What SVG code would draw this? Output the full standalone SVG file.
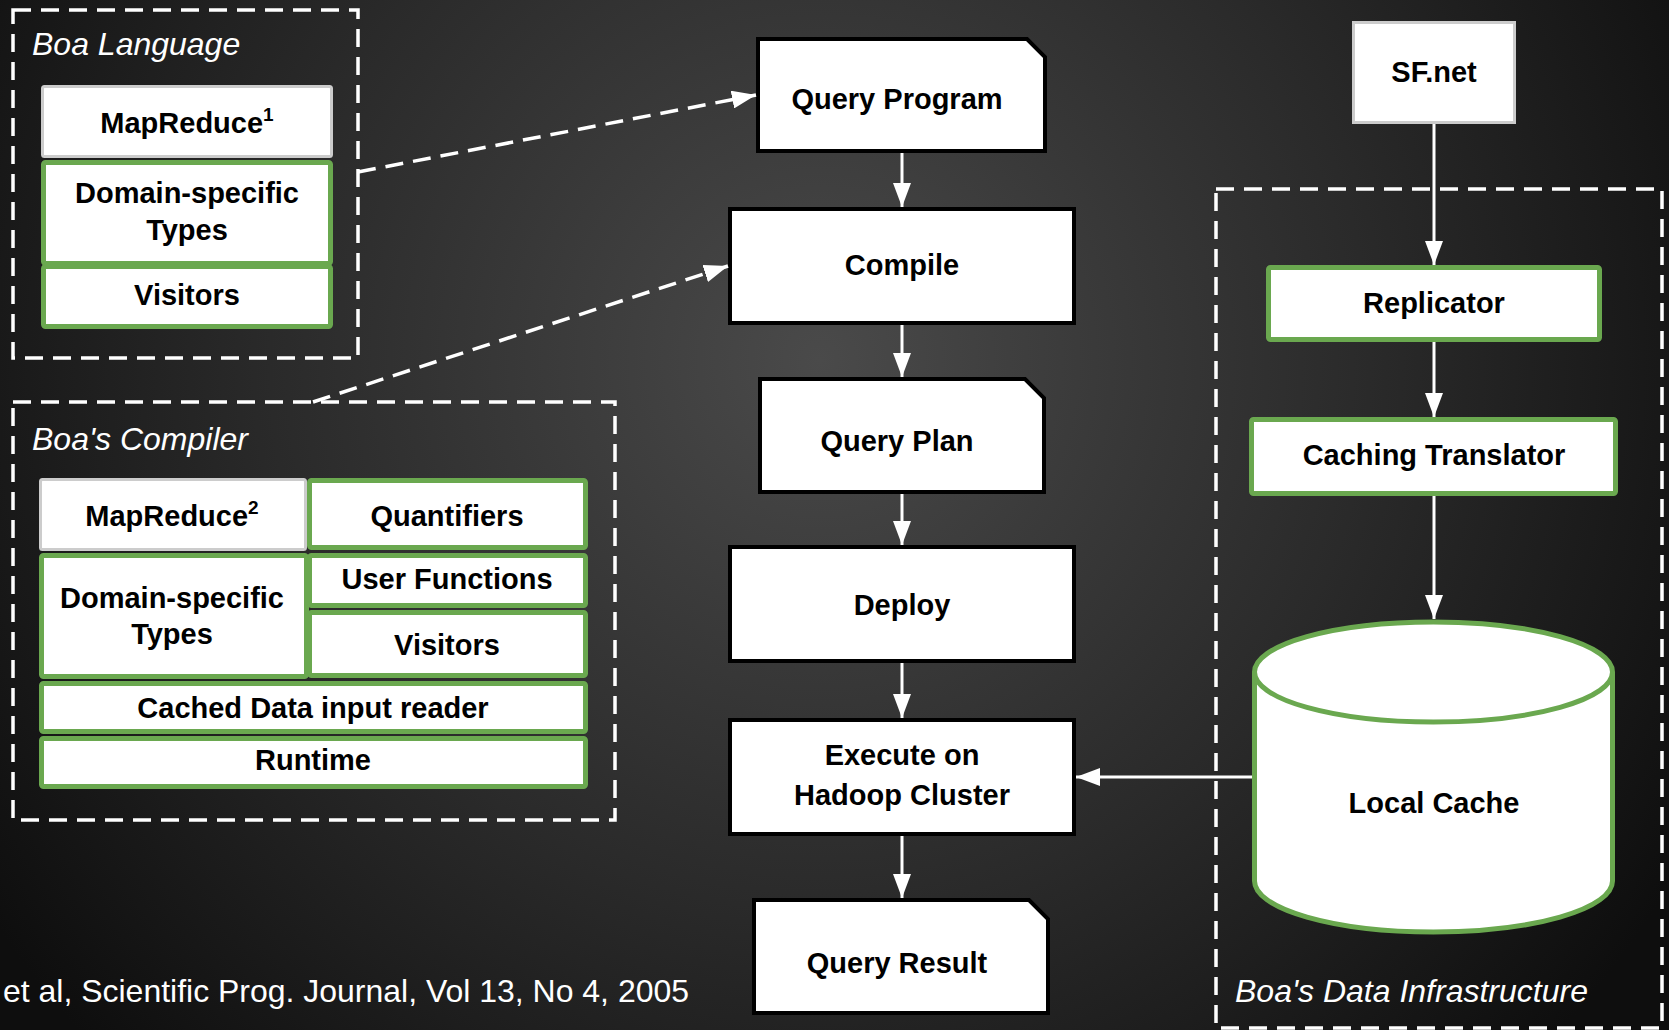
<svg xmlns="http://www.w3.org/2000/svg" width="1669" height="1030" viewBox="0 0 1669 1030">
<defs>
<radialGradient id="bg" cx="820" cy="360" r="1000" gradientUnits="userSpaceOnUse">
<stop offset="0" stop-color="#4a4a4a"/>
<stop offset="0.55" stop-color="#2a2a2a"/>
<stop offset="1" stop-color="#0e0e0e"/>
</radialGradient>
<marker id="ah" markerUnits="userSpaceOnUse" markerWidth="24" markerHeight="18" refX="24" refY="9" orient="auto">
<path d="M0,0 L24,9 L0,18 Z" fill="#fff"/>
</marker>
</defs>
<style>
.bold{font-family:"Liberation Sans",Arial,sans-serif;font-weight:bold;font-size:29px;fill:#000;text-anchor:middle}
.title{font-family:"Liberation Sans",Arial,sans-serif;font-style:italic;font-size:32px;fill:#fff}
.foot{font-family:"Liberation Sans",Arial,sans-serif;font-size:32px;fill:#fff}
.dash{fill:none;stroke:#fff;stroke-width:3.5;stroke-dasharray:18 10}
.gray{fill:#fff;stroke:#cccccc;stroke-width:3}
.green{fill:#fff;stroke:#6aa84f;stroke-width:5}
.blk{fill:#fff;stroke:#000;stroke-width:4}
.conn{fill:none;stroke:#fff;stroke-width:3;marker-end:url(#ah)}
.dconn{fill:none;stroke:#fff;stroke-width:3.5;stroke-dasharray:18 10;marker-end:url(#ah)}
</style>
<rect x="0" y="0" width="1669" height="1030" fill="url(#bg)"/>

<g id="boa-language">
<rect class="dash" x="13" y="10" width="345" height="348"/>
<text class="title" x="32" y="55">Boa Language</text>
</g>
<g id="lang-mapreduce">
<rect class="gray" x="42.5" y="86.5" width="289" height="70" rx="2"/>
<text class="bold" x="187" y="133">MapReduce<tspan font-size="19" dy="-12">1</tspan></text>
</g>
<g id="lang-domain-types">
<rect class="green" x="43.5" y="162.5" width="287" height="101" rx="2"/>
<text class="bold" x="187" y="203">Domain-specific</text>
<text class="bold" x="187" y="240">Types</text>
</g>
<g id="lang-visitors">
<rect class="green" x="43.5" y="266.5" width="287" height="60" rx="2"/>
<text class="bold" x="187" y="305">Visitors</text>
</g>

<g id="boa-compiler">
<rect class="dash" x="13" y="402" width="602" height="418"/>
<text class="title" x="32" y="450">Boa's Compiler</text>
</g>
<g id="comp-mapreduce">
<rect class="gray" x="40.5" y="479.5" width="265" height="70" rx="2"/>
<text class="bold" x="172" y="526">MapReduce<tspan font-size="19" dy="-12">2</tspan></text>
</g>
<g id="comp-quantifiers">
<rect class="green" x="309.5" y="480.5" width="276" height="67" rx="2"/>
<text class="bold" x="447" y="526">Quantifiers</text>
</g>
<g id="comp-domain-types">
<rect class="green" x="41.5" y="555.5" width="265" height="121" rx="2"/>
<text class="bold" x="172" y="608">Domain-specific</text>
<text class="bold" x="172" y="644">Types</text>
</g>
<g id="comp-user-functions">
<rect class="green" x="309.5" y="555.5" width="276" height="50" rx="2"/>
<text class="bold" x="447" y="589">User Functions</text>
</g>
<g id="comp-visitors">
<rect class="green" x="309.5" y="612.5" width="276" height="63" rx="2"/>
<text class="bold" x="447" y="655">Visitors</text>
</g>
<g id="comp-cached-reader">
<rect class="green" x="41.5" y="683.5" width="544" height="48" rx="2"/>
<text class="bold" x="313" y="718">Cached Data input reader</text>
</g>
<g id="comp-runtime">
<rect class="green" x="41.5" y="738.5" width="544" height="48" rx="2"/>
<text class="bold" x="313" y="770">Runtime</text>
</g>

<g id="query-program">
<path class="blk" d="M758,39 L1027,39 L1045,57 L1045,151 L758,151 Z"/>
<text class="bold" x="897" y="109">Query Program</text>
</g>
<g id="compile">
<rect class="blk" x="730" y="209" width="344" height="114"/>
<text class="bold" x="902" y="275">Compile</text>
</g>
<g id="query-plan">
<path class="blk" d="M760,379 L1025,379 L1044,398 L1044,492 L760,492 Z"/>
<text class="bold" x="897" y="451">Query Plan</text>
</g>
<g id="deploy">
<rect class="blk" x="730" y="547" width="344" height="114"/>
<text class="bold" x="902" y="615">Deploy</text>
</g>
<g id="execute">
<rect class="blk" x="730" y="720" width="344" height="114"/>
<text class="bold" x="902" y="765">Execute on</text>
<text class="bold" x="902" y="805">Hadoop Cluster</text>
</g>
<g id="query-result">
<path class="blk" d="M754,900 L1029,900 L1048,919 L1048,1013 L754,1013 Z"/>
<text class="bold" x="897" y="973">Query Result</text>
</g>

<g id="sfnet">
<rect class="gray" x="1353.5" y="22.5" width="161" height="100"/>
<text class="bold" x="1434" y="82">SF.net</text>
</g>
<g id="data-infrastructure">
<rect class="dash" x="1216" y="189" width="446" height="839"/>
<text class="title" x="1235" y="1002">Boa's Data Infrastructure</text>
</g>
<g id="replicator">
<rect class="green" x="1268.5" y="267.5" width="331" height="72" rx="2"/>
<text class="bold" x="1434" y="313">Replicator</text>
</g>
<g id="caching-translator">
<rect class="green" x="1251.5" y="419.5" width="364" height="74" rx="2"/>
<text class="bold" x="1434" y="465">Caching Translator</text>
</g>
<g id="local-cache">
<path d="M1254.5,672 A179,50 0 0,1 1612.5,672 L1612.5,881 A179,51 0 0,1 1254.5,881 Z" fill="#fff" stroke="#6aa84f" stroke-width="5"/>
<path d="M1254.5,672 A179,50 0 0,0 1612.5,672" fill="none" stroke="#6aa84f" stroke-width="5"/>
<text class="bold" x="1434" y="813">Local Cache</text>
</g>

<g id="connectors">
<line class="dconn" x1="358" y1="172" x2="756" y2="95"/>
<line class="dconn" x1="313" y1="402" x2="728" y2="266"/>
<line class="conn" x1="902" y1="153" x2="902" y2="207"/>
<line class="conn" x1="902" y1="325" x2="902" y2="377"/>
<line class="conn" x1="902" y1="494" x2="902" y2="545"/>
<line class="conn" x1="902" y1="663" x2="902" y2="718"/>
<line class="conn" x1="902" y1="836" x2="902" y2="898"/>
<line class="conn" x1="1434" y1="124" x2="1434" y2="265"/>
<line class="conn" x1="1434" y1="342" x2="1434" y2="417"/>
<line class="conn" x1="1434" y1="496" x2="1434" y2="619"/>
<line class="conn" x1="1252" y1="777" x2="1076" y2="777"/>
</g>

<text class="foot" x="3" y="1002" textLength="686" lengthAdjust="spacingAndGlyphs">et al, Scientific Prog. Journal, Vol 13, No 4, 2005</text>
</svg>
